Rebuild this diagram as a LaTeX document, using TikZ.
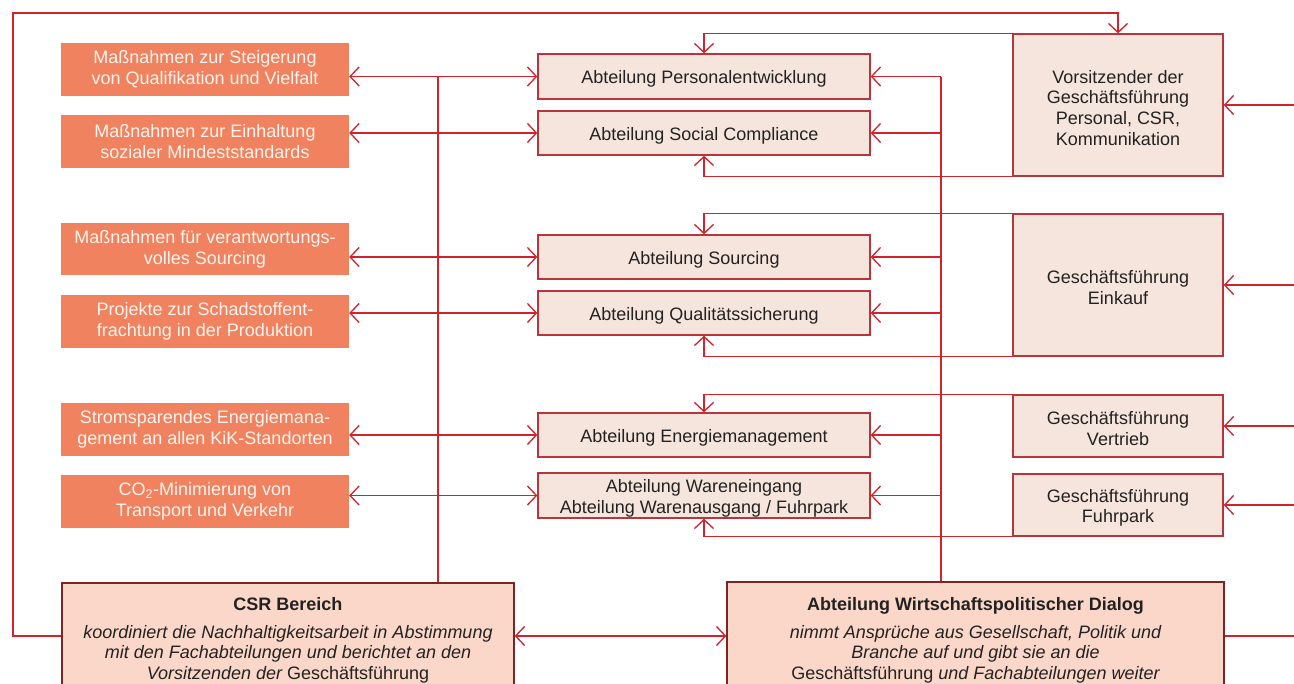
\documentclass[tikz,border=0pt]{standalone}
\usepackage{fontspec}
\setmainfont{Liberation Sans}
\usetikzlibrary{arrows.meta}
\definecolor{orangebox}{HTML}{F0825F}
\definecolor{orangetxt}{HTML}{FFF4EE}
\definecolor{deptfill}{HTML}{F6E5DD}
\definecolor{deptdraw}{HTML}{B9353B}
\definecolor{botfill}{HTML}{FAD7C9}
\definecolor{botdraw}{HTML}{7E2424}
\definecolor{linecol}{HTML}{D2222B}
\definecolor{txt}{HTML}{222222}
\tikzset{
  base/.style={inner sep=0pt, align=center, font=\fontsize{18}{20.8}\selectfont, text=txt},
  lbl/.style={base, yshift=-2.8pt},
  obox/.style={base, fill=orangebox, text=orangetxt, minimum width=288pt},
  dbox/.style={base, fill=deptfill, draw=deptdraw, line width=1.3pt, minimum width=332pt},
  rbox/.style={base, fill=deptfill, draw=deptdraw, line width=1.3pt, minimum width=210pt},
  bbox/.style={base, fill=botfill, draw=botdraw, line width=1.3pt},
  conn/.style={draw=linecol, line width=1.3pt},
  tipR/.style={conn, -{Straight Barb[length=9pt,width=19pt]}},
  tipB/.style={conn, {Straight Barb[length=9pt,width=19pt]}-{Straight Barb[length=9pt,width=19pt]}},
}
\begin{document}
\begin{tikzpicture}[x=1pt,y=-1pt]
\useasboundingbox (0,0) rectangle (1294,684);
\clip (0,0) rectangle (1294,684);
% orange boxes
\node[obox, minimum height=53pt] (o1) at (205,69.5) {Maßnahmen zur Steigerung\\von Qualifikation und Vielfalt};
\node[obox, minimum height=53pt] (o2) at (205,141.5) {Maßnahmen zur Einhaltung\\sozialer Mindeststandards};
\node[obox, minimum height=52pt] (o3) at (205,249) {Maßnahmen für verantwortungs-\\volles Sourcing};
\node[obox, minimum height=53pt] (o4) at (205,321.5) {Projekte zur Schadstoffent-\\frachtung in der Produktion};
\node[obox, minimum height=53pt] (o5) at (205,429.5) {Stromsparendes Energiemana-\\gement an allen KiK-Standorten};
\node[obox, minimum height=53pt] (o6) at (205,501.5) {CO\textsubscript{2}-Minimierung von\\Transport und Verkehr};
% department boxes
\node[dbox, minimum height=45pt, label={[lbl]center:{Abteilung Personalentwicklung}}] (d1) at (704,76.5) {};
\node[dbox, minimum height=44pt, label={[lbl]center:{Abteilung Social Compliance}}] (d2) at (704,133) {};
\node[dbox, minimum height=44pt, label={[lbl]center:{Abteilung Sourcing}}] (d3) at (704,257) {};
\node[dbox, minimum height=44pt, label={[lbl]center:{Abteilung Qualitätssicherung}}] (d4) at (704,313) {};
\node[dbox, minimum height=44pt, label={[lbl]center:{Abteilung Energiemanagement}}] (d5) at (704,435) {};
\node[dbox, minimum height=45pt, label={[lbl]center:{Abteilung Wareneingang\\Abteilung Warenausgang / Fuhrpark}}] (d6) at (704,495.5) {};
% right boxes
\node[rbox, minimum height=142pt, label={[lbl]center:{Vorsitzender der\\Geschäftsführung\\Personal, CSR,\\Kommunikation}}] (r1) at (1118,105) {};
\node[rbox, minimum height=142pt, label={[lbl]center:{Geschäftsführung\\Einkauf}}] (r2) at (1118,285) {};
\node[rbox, minimum height=62pt, label={[lbl]center:{Geschäftsführung\\Vertrieb}}] (r3) at (1118,426) {};
\node[rbox, minimum height=62pt, label={[lbl]center:{Geschäftsführung\\Fuhrpark}}] (r4) at (1118,505) {};
% bottom boxes
\node[bbox, minimum width=452pt, minimum height=120pt] (csr) at (288,643) {};
\node[bbox, minimum width=497pt, minimum height=122pt] (dlg) at (975.5,643) {};
\node[base, anchor=north] (csrt) at (288,597) {\textbf{CSR Bereich}\\[7pt]\itshape koordiniert die Nachhaltigkeitsarbeit in Abstimmung\\\itshape mit den Fachabteilungen und berichtet an den\\\itshape Vorsitzenden der \upshape Geschäftsführung};
\node[base, anchor=north] (dlgt) at (975.5,597) {\textbf{Abteilung Wirtschaftspolitischer Dialog}\\[7pt]\itshape nimmt Ansprüche aus Gesellschaft, Politik und\\\itshape Branche auf und gibt sie an die\\Geschäftsführung \itshape und Fachabteilungen weiter};
% helper coordinates
\coordinate (vL) at (438,77);
\coordinate (vR) at (941,77);
\coordinate (E) at (1294,0);
\coordinate (W) at (13,13);
\coordinate (low) at (0,636);
% left trunk
\draw[conn] (vL) -- (vL |- csr.north);
\foreach \i in {1,...,6}{
  \draw[tipB] (o\i.east |- d\i.west) -- (d\i.west);
}
% right trunk
\draw[conn] (vR) -- (vR |- dlg.north);
\foreach \i in {1,...,6}{
  \draw[tipR] (d\i.east -| vR) -- (d\i.east);
}
% management to departments
\draw[tipR] (r1.north west) -| (d1.north);
\draw[tipR] (r1.south west) -| (d2.south);
\draw[tipR] (r2.north west) -| (d3.north);
\draw[tipR] (r2.south west) -| (d4.south);
\draw[tipR] (r3.north west) -| (d5.north);
\draw[tipR] (r4.south west) -| (d6.south);
% external inputs
\foreach \i in {1,...,4}{
  \draw[tipR] (r\i.east -| E) -- (r\i.east);
}
% bottom connections
\draw[tipR] (csr.west |- low) -| (W) -| (r1.north);
\draw[tipB] (csr.east |- low) -- (dlg.west |- low);
\draw[conn] (dlg.east |- low) -- (E |- low);
\end{tikzpicture}
\end{document}
